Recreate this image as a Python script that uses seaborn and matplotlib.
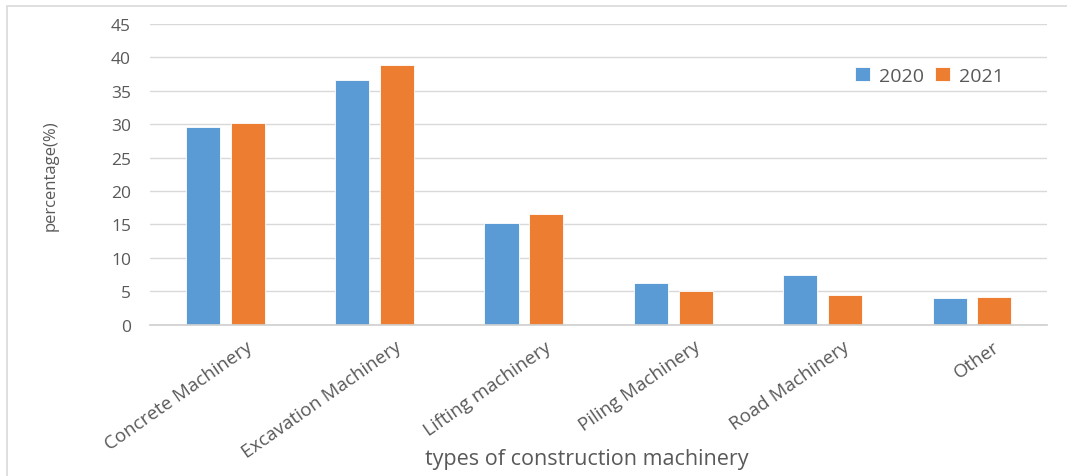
import matplotlib
matplotlib.use("Agg")
import matplotlib.pyplot as plt
import matplotlib.transforms as mtransforms
import seaborn as sns
import pandas as pd
from matplotlib.patches import Rectangle

categories = ["Concrete Machinery", "Excavation Machinery", "Lifting machinery",
              "Piling Machinery", "Road Machinery", "Other"]
values_2020 = [29.6, 36.6, 15.2, 6.3, 7.4, 4.0]
values_2021 = [30.2, 38.9, 16.5, 5.0, 4.4, 4.2]
years = ["2020", "2021"]
y_ticks = [0, 5, 10, 15, 20, 25, 30, 35, 40, 45]

df = pd.DataFrame({
    "category": categories * 2,
    "year": [years[0]] * len(categories) + [years[1]] * len(categories),
    "value": values_2020 + values_2021,
})

sns.set_theme(style="white")
plt.rcParams["font.family"] = ["Open Sans", "DejaVu Sans"]
text_color = "#595959"

fig = plt.figure(figsize=(10.67, 4.77), dpi=100)
ax = fig.add_axes([0.141, 0.317, 0.84, 0.631])

sns.barplot(data=df, x="category", y="value", hue="year", ax=ax,
            palette={"2020": "#5B9BD5", "2021": "#ED7D31"},
            width=0.6, gap=0.24, saturation=1, edgecolor="white", linewidth=0.6)

ax.set_ylim(0, 45)
ax.set_yticks(y_ticks)
ax.set_yticklabels([str(t) for t in y_ticks], fontsize=12.5, color=text_color)
ax.yaxis.grid(True, color="#d9d9d9", linewidth=1)
ax.set_axisbelow(True)
for s in ["top", "right", "left"]:
    ax.spines[s].set_visible(False)
ax.spines["bottom"].set_color("#d0d0d0")
ax.tick_params(axis="both", length=0)
ax.tick_params(axis="y", pad=14)
ax.set_xlim(-0.5, len(categories) - 0.5)

ax.set_xticks(range(len(categories)))
ax.set_xticklabels(categories, rotation=35, ha="right", rotation_mode="anchor",
                   fontsize=13.5, color=text_color)
ax.tick_params(axis="x", pad=9)
offset = mtransforms.ScaledTranslation(0.2, 0.0, fig.dpi_scale_trans)
for lbl in ax.get_xticklabels():
    lbl.set_transform(lbl.get_transform() + offset)

ax.set_xlabel("")
fig.text(0.55, 0.036, "types of construction machinery", ha="center", va="center",
         fontsize=15.5, color=text_color)
ax.set_ylabel("percentage(%)", fontsize=12, color=text_color, labelpad=38)

leg = ax.legend(loc="upper right", bbox_to_anchor=(0.972, 0.915), ncol=2, frameon=False,
                fontsize=14, handlelength=0.75, handleheight=0.75, columnspacing=0.55,
                handletextpad=0.5)
for t in leg.get_texts():
    t.set_color(text_color)

fig.patches.append(Rectangle((0.007, -0.05), 1.2, 1.035, transform=fig.transFigure,
                             fill=False, edgecolor="#d9d9d9", linewidth=1.2))

fig.savefig("out.png", dpi=100)
